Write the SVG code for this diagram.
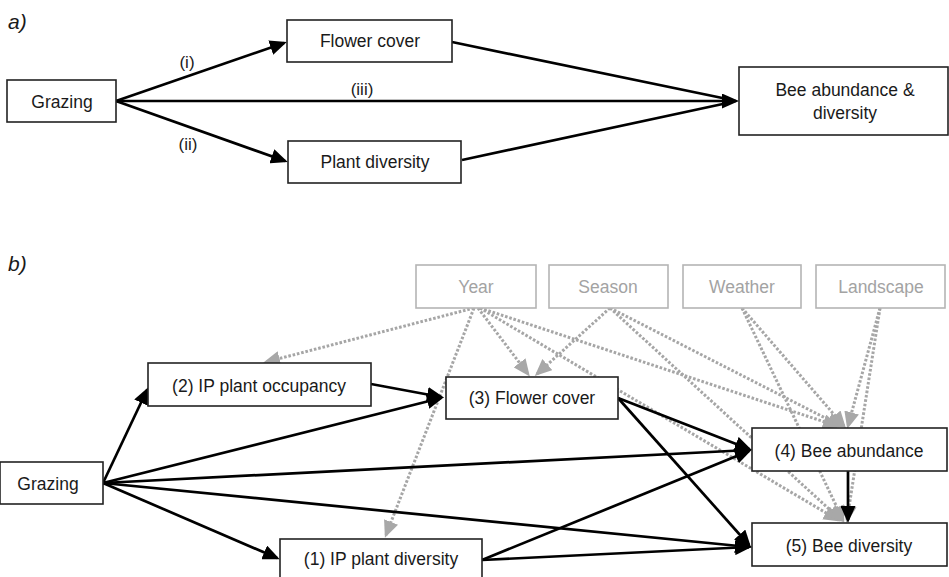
<svg xmlns="http://www.w3.org/2000/svg" width="949" height="577" viewBox="0 0 949 577">
<style>
  text{font-family:"Liberation Sans",Arial,sans-serif;font-size:17.5px;fill:#1a1a1a;text-anchor:middle}
  .lbl{font-size:17px}
  .panel{font-size:21px;font-style:italic;text-anchor:start}
  .box rect{fill:#fff;stroke:#222;stroke-width:1.6}
  .gbox rect{fill:#fff;stroke:#b5b5b5;stroke-width:1.6}
  .gbox text{fill:#a3a3a3}
  .blk{stroke:#000;stroke-width:2.7;fill:none}
  .gry{stroke:#a6a6a6;stroke-width:3;stroke-dasharray:2.6 1.8;fill:none}
</style>
<defs>
  <marker id="ab" markerUnits="userSpaceOnUse" markerWidth="17" markerHeight="15" viewBox="0 0 17 15" refX="14" refY="7.5" orient="auto">
    <path d="M0,0 L17,7.5 L0,15 z" fill="#000"/>
  </marker>
  <marker id="ag" markerUnits="userSpaceOnUse" markerWidth="17" markerHeight="15" viewBox="0 0 17 15" refX="14" refY="7.5" orient="auto">
    <path d="M0,0 L17,7.5 L0,15 z" fill="#a8a8a8"/>
  </marker>
</defs>

<text class="panel" x="8" y="29">a)</text>
<text class="panel" x="8" y="271">b)</text>

<g id="connectors-a">
  <line class="blk" x1="116" y1="101" x2="284" y2="43" marker-end="url(#ab)"/>
  <line class="blk" x1="116" y1="101" x2="285" y2="161" marker-end="url(#ab)"/>
  <line class="blk" x1="116" y1="101" x2="736" y2="101" marker-end="url(#ab)"/>
  <line class="blk" x1="452" y1="42" x2="732" y2="100"/>
  <line class="blk" x1="462" y1="160" x2="732" y2="102"/>
  <text class="lbl" x="187" y="68">(i)</text>
  <text class="lbl" x="188" y="150">(ii)</text>
  <text class="lbl" x="362" y="95">(iii)</text>
</g>

<g id="a-grazing" class="box"><rect x="7" y="80" width="109" height="42"/><text x="62" y="108">Grazing</text></g>
<g id="a-flower" class="box"><rect x="287" y="20" width="165" height="42"/><text x="370" y="47">Flower cover</text></g>
<g id="a-plant" class="box"><rect x="288" y="141" width="173" height="42"/><text x="375" y="168">Plant diversity</text></g>
<g id="a-bee" class="box"><rect x="739" y="67" width="209" height="68"/><text x="845" y="96">Bee abundance &amp;</text><text x="845" y="119">diversity</text></g>

<g id="connectors-b-grey">
  <line class="gry" x1="474" y1="308" x2="266" y2="362" marker-end="url(#ag)"/>
  <line class="gry" x1="474" y1="308" x2="386" y2="535" marker-end="url(#ag)"/>
  <line class="gry" x1="478" y1="308" x2="528" y2="374" marker-end="url(#ag)"/>
  <line class="gry" x1="480" y1="308" x2="837" y2="426" marker-end="url(#ag)"/>
  <line class="gry" x1="480" y1="308" x2="838" y2="520" marker-end="url(#ag)"/>
  <line class="gry" x1="610" y1="308" x2="537" y2="374" marker-end="url(#ag)"/>
  <line class="gry" x1="610" y1="308" x2="841" y2="426" marker-end="url(#ag)"/>
  <line class="gry" x1="610" y1="308" x2="841" y2="520" marker-end="url(#ag)"/>
  <line class="gry" x1="742" y1="308" x2="844" y2="426" marker-end="url(#ag)"/>
  <line class="gry" x1="742" y1="308" x2="843" y2="520" marker-end="url(#ag)"/>
  <line class="gry" x1="880" y1="308" x2="848" y2="426" marker-end="url(#ag)"/>
  <line class="gry" x1="880" y1="308" x2="847" y2="520" marker-end="url(#ag)"/>
</g>

<g id="connectors-b">
  <line class="blk" x1="103" y1="483" x2="147" y2="390" marker-end="url(#ab)"/>
  <line class="blk" x1="103" y1="483" x2="441" y2="398" marker-end="url(#ab)"/>
  <line class="blk" x1="371" y1="384" x2="441" y2="397" marker-end="url(#ab)"/>
  <line class="blk" x1="103" y1="483" x2="277" y2="558" marker-end="url(#ab)"/>
  <line class="blk" x1="103" y1="483" x2="749" y2="450" marker-end="url(#ab)"/>
  <line class="blk" x1="103" y1="483" x2="749" y2="547" marker-end="url(#ab)"/>
  <line class="blk" x1="482" y1="560" x2="749" y2="451" marker-end="url(#ab)"/>
  <line class="blk" x1="482" y1="560" x2="749" y2="547" marker-end="url(#ab)"/>
  <line class="blk" x1="618" y1="398" x2="749" y2="449" marker-end="url(#ab)"/>
  <line class="blk" x1="618" y1="398" x2="749" y2="545" marker-end="url(#ab)"/>
  <line class="blk" x1="848" y1="471" x2="848" y2="520" marker-end="url(#ab)"/>
</g>

<g id="year" class="gbox"><rect x="416" y="265" width="120" height="43"/><text x="476" y="293">Year</text></g>
<g id="season" class="gbox"><rect x="549" y="265" width="119" height="43"/><text x="608" y="293">Season</text></g>
<g id="weather" class="gbox"><rect x="683" y="265" width="118" height="43"/><text x="742" y="293">Weather</text></g>
<g id="landscape" class="gbox"><rect x="816" y="265" width="129" height="43"/><text x="881" y="293">Landscape</text></g>

<g id="b-grazing" class="box"><rect x="0" y="462" width="103" height="42"/><text x="48" y="490">Grazing</text></g>
<g id="ip-occupancy" class="box"><rect x="148" y="363" width="223" height="43"/><text x="259" y="392">(2) IP plant occupancy</text></g>
<g id="flower-cover" class="box"><rect x="446" y="377" width="172" height="42"/><text x="532" y="404">(3) Flower cover</text></g>
<g id="ip-diversity" class="box"><rect x="280" y="539" width="202" height="43"/><text x="381" y="565">(1) IP plant diversity</text></g>
<g id="bee-abundance" class="box"><rect x="752" y="428" width="195" height="43"/><text x="849" y="457">(4) Bee abundance</text></g>
<g id="bee-diversity" class="box"><rect x="752" y="523" width="195" height="43"/><text x="849" y="552">(5) Bee diversity</text></g>
</svg>
